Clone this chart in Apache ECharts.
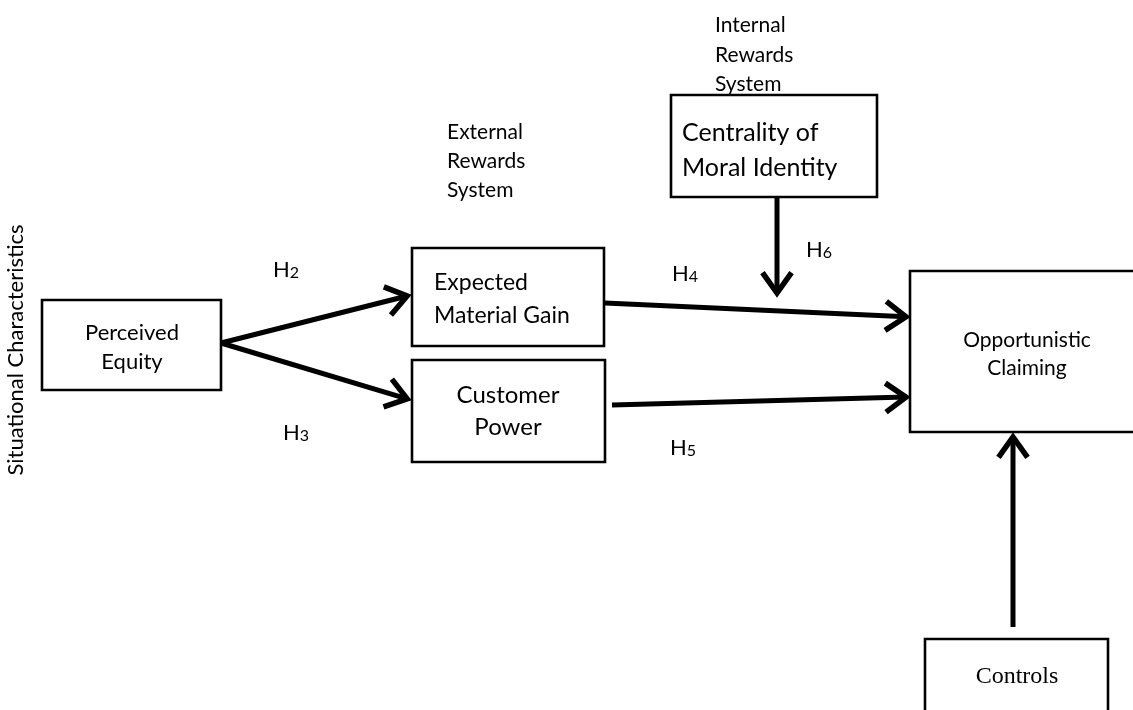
<!DOCTYPE html>
<html>
<head>
<meta charset="utf-8">
<title>Opportunistic claiming model</title>
<script src="https://cdn.jsdelivr.net/npm/echarts@6/dist/echarts.min.js"></script>
<style>
    html, body { margin: 0; padding: 0; background: #fff; }
    #main { width: 1133px; height: 710px; }
</style>
</head>
<body>
<div id="main"></div>
<script>
// diagram units: x 0..1133, y 0..710 (top down)

// boxes
var boxNames = ['Perceived Equity', 'Expected Material Gain', 'Customer Power',
    'Centrality of Moral Identity', 'Opportunistic Claiming', 'Controls'];
var boxLeft = [42, 412, 412, 671, 910, 925];
var boxTop = [300, 248, 360, 95, 271, 639];
var boxRight = [221, 604, 605, 877, 1150, 1108];
var boxBottom = [390, 346, 462, 197, 432, 730];

// text inside the boxes, one small list per box
var perceivedLines = ['Perceived', 'Equity'];
var perceivedX = [132, 132];
var perceivedY = [333, 362];

var expectedLines = ['Expected', 'Material Gain'];
var expectedX = [434, 434];
var expectedY = [283, 316];

var customerLines = ['Customer', 'Power'];
var customerX = [508, 508];
var customerY = [395, 427];

var centralityLines = ['Centrality of', 'Moral Identity'];
var centralityX = [682, 682];
var centralityY = [133, 168];

var claimingLines = ['Opportunistic', 'Claiming'];
var claimingX = [1027, 1027];
var claimingY = [340, 368];

var controlsLines = ['Controls'];
var controlsX = [1017];
var controlsY = [677];

// group headings
var noteLines = ['External', 'Rewards', 'System', 'Internal', 'Rewards', 'System'];
var noteX = [447, 447, 447, 715, 715, 715];
var noteY = [132, 161, 190, 25, 55, 84];

var sideTitle = ['Situational Characteristics'];
var sideX = [16];
var sideY = [350];

// paths (hypotheses)
var pathNames = ['H2', 'H3', 'H4', 'H5', 'H6', 'Controls'];
var pathFromX = [221, 221, 605, 612, 777, 1013];
var pathFromY = [343, 343, 303, 405, 197, 627];
var pathToX = [411, 411, 910, 910, 777, 1013];
var pathToY = [295, 400, 317, 397, 297, 433];

var hypSub = ['2', '3', '4', '5', '6'];
var hypX = [273, 283, 672, 670, 806];
var hypY = [268, 431, 272, 446, 248];

var FONT = 'Lato, "Open Sans", sans-serif';

function zip2(xs, ys) {
    var out = [];
    for (var i = 0; i < xs.length; i++) out.push([xs[i], ys[i]]);
    return out;
}

function renderBox(params, api) {
    var p0 = api.coord([api.value(0), api.value(1)]);
    var p1 = api.coord([api.value(2), api.value(3)]);
    return {
        type: 'rect',
        shape: {x: p0[0], y: p0[1], width: p1[0] - p0[0], height: p1[1] - p0[1]},
        style: {fill: null, stroke: '#000', lineWidth: 2.6}
    };
}

function renderArrow(params, api) {
    var a = api.coord([api.value(0), api.value(1)]);
    var b = api.coord([api.value(2), api.value(3)]);
    var ang = Math.atan2(b[1] - a[1], b[0] - a[0]);
    var tip = [b[0] - 4 * Math.cos(ang), b[1] - 4 * Math.sin(ang)];
    var L = 25, spread = 0.62;
    var l = [tip[0] - L * Math.cos(ang - spread), tip[1] - L * Math.sin(ang - spread)];
    var r = [tip[0] - L * Math.cos(ang + spread), tip[1] - L * Math.sin(ang + spread)];
    return {
        type: 'group',
        children: [{
            type: 'line',
            shape: {x1: a[0], y1: a[1], x2: tip[0], y2: tip[1]},
            style: {stroke: '#000', lineWidth: 5}
        }, {
            type: 'polyline',
            shape: {points: [l, tip, r]},
            style: {stroke: '#000', fill: null, lineWidth: 5.5, lineJoin: 'miter'}
        }]
    };
}

// text series builder
function textSeries(lines, xs, ys, style, rotation) {
    return {
        type: 'custom',
        data: zip2(xs, ys),
        encode: {x: 0, y: 1},
        silent: true,
        renderItem: function (params, api) {
            var p = api.coord([api.value(0), api.value(1)]);
            var s = Object.assign({text: lines[params.dataIndex], fill: '#000', verticalAlign: 'middle'}, style);
            return {type: 'text', x: p[0], y: p[1], rotation: rotation || 0, style: s};
        }
    };
}

function sans(size, align) {
    return {align: align, fontSize: size, fontFamily: FONT};
}

var myChart = echarts.init(document.getElementById('main'));

var hypLabels = [];
for (var i = 0; i < hypSub.length; i++) {
    hypLabels.push('{h|H}{s|' + hypSub[i] + '}');
}

var option = {
    backgroundColor: '#fff',
    animation: false,
    grid: {left: 0, right: 0, top: 0, bottom: 0},
    xAxis: {type: 'value', min: 0, max: 1133, show: false},
    yAxis: {type: 'value', min: 0, max: 710, inverse: true, show: false},
    series: [
        {
            type: 'custom',
            name: 'boxes',
            data: boxNames.map(function (n, i) {
                return {name: n, value: [boxLeft[i], boxTop[i], boxRight[i], boxBottom[i]]};
            }),
            encode: {x: [0, 2], y: [1, 3]},
            renderItem: renderBox,
            silent: true
        },
        {
            type: 'custom',
            name: 'paths',
            data: pathNames.map(function (n, i) {
                return {name: n, value: [pathFromX[i], pathFromY[i], pathToX[i], pathToY[i]]};
            }),
            encode: {x: [0, 2], y: [1, 3]},
            renderItem: renderArrow,
            silent: true
        },
        textSeries(perceivedLines, perceivedX, perceivedY, sans(22, 'center')),
        textSeries(expectedLines, expectedX, expectedY, sans(23, 'left')),
        textSeries(customerLines, customerX, customerY, sans(24, 'center')),
        textSeries(centralityLines, centralityX, centralityY, sans(25, 'left')),
        textSeries(claimingLines, claimingX, claimingY, sans(21, 'center')),
        textSeries(controlsLines, controlsX, controlsY,
            {align: 'center', fontSize: 24, fontFamily: '"Liberation Serif", serif'}),
        textSeries(noteLines, noteX, noteY, sans(21, 'left')),
        textSeries(sideTitle, sideX, sideY, sans(22, 'center'), Math.PI / 2),
        textSeries(hypLabels, hypX, hypY, {
            align: 'left',
            rich: {
                h: {fontSize: 22, fontFamily: FONT, lineHeight: 26, verticalAlign: 'bottom'},
                s: {fontSize: 16, fontFamily: FONT, lineHeight: 20, verticalAlign: 'bottom'}
            }
        })
    ]
};

myChart.setOption(option);
</script>
</body>
</html>
